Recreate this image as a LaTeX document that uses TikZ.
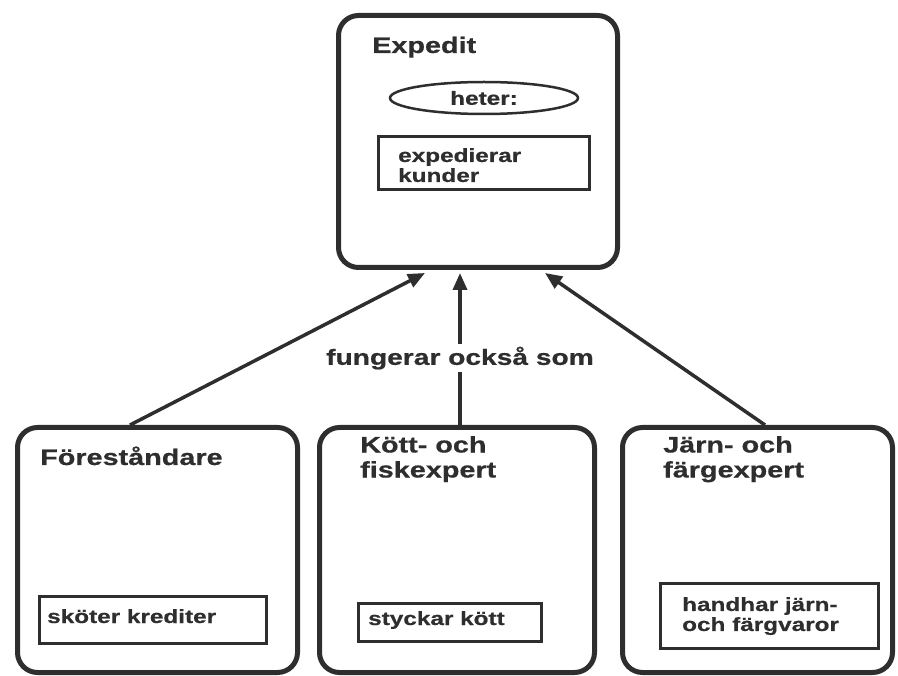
\documentclass[tikz,border=0pt]{standalone}
\usepackage{fontspec}
\setmainfont[FakeStretch=1.28,BoldFeatures={FakeBold=0.6}]{Liberation Sans}
\usetikzlibrary{arrows.meta,calc,shapes.geometric}
\definecolor{ink}{HTML}{2E2E2E}
\begin{document}
\begin{tikzpicture}[x=1pt,y=-1pt,
  every node/.style={text=ink,font=\bfseries},
  rolebox/.style={draw=ink,line width=5pt,rounded corners=20pt,anchor=north west,inner sep=0pt},
  dutybox/.style={draw=ink,line width=3pt,anchor=north west,inner sep=0pt},
  title/.style={anchor=base west,inner sep=0pt,font=\bfseries\fontsize{22.5}{25}\selectfont,align=left},
  duty/.style={anchor=base west,inner sep=0pt,font=\bfseries\fontsize{19}{20}\selectfont,align=left},
  link/.style={draw=ink,line width=3.5pt,-{Triangle[length=17pt,width=14pt]}}]
\useasboundingbox (0,0) rectangle (898,676);

% superclass
\node[rolebox,minimum width=279pt,minimum height=252pt] (exp) at (336,13) {};
\node[title] (expT) at (372,53) {Expedit};
\node[draw=ink,line width=2.5pt,ellipse,minimum width=188pt,minimum height=32pt,inner sep=0pt,
      font=\bfseries\fontsize{19}{20}\selectfont] (heter) at (484,98) {heter:};
\node[dutybox,minimum width=211pt,minimum height=53pt] (expD) at (377,135) {};
\node[duty,anchor=north west] (expDT) at (398,148) {expedierar\\kunder};

% subclasses
\node[rolebox,minimum width=280pt,minimum height=245pt] (fore) at (15,425) {};
\node[title] (foreT) at (40,465) {Föreståndare};
\node[dutybox,minimum width=227pt,minimum height=47pt] (foreD) at (38,595) {};
\node[duty] (foreDT) at (47,623) {sköter krediter};

\node[rolebox,minimum width=275pt,minimum height=245pt] (kott) at (317,425) {};
\node[title,anchor=north west] (kottT) at (360,436) {Kött- och\\fiskexpert};
\node[dutybox,minimum width=183pt,minimum height=38pt] (kottD) at (357,602) {};
\node[duty] (kottDT) at (368,625) {styckar kött};

\node[rolebox,minimum width=270pt,minimum height=245pt] (jarn) at (620,425) {};
\node[title,anchor=north west] (jarnT) at (663,436) {Järn- och\\färgexpert};
\node[dutybox,minimum width=218pt,minimum height=65pt] (jarnD) at (659,582) {};
\node[duty,anchor=north west] (jarnDT) at (682,597) {handhar järn-\\och färgvaror};

% generalisation links
\draw[link] ($(fore.north west)+(115,0)$) -- ($(exp.south west)+(89,3)$);
\draw[link] ($(kott.north west)+(143,0)$) -- node[fill=white,inner sep=3pt,
   font=\bfseries\fontsize{22}{24}\selectfont,pos=0.44] (lbl) {fungerar också som}
   ($(exp.south west)+(124,3)$);
\draw[link] ($(jarn.north west)+(145,0)$) -- ($(exp.south west)+(209,3)$);
\end{tikzpicture}
\end{document}
